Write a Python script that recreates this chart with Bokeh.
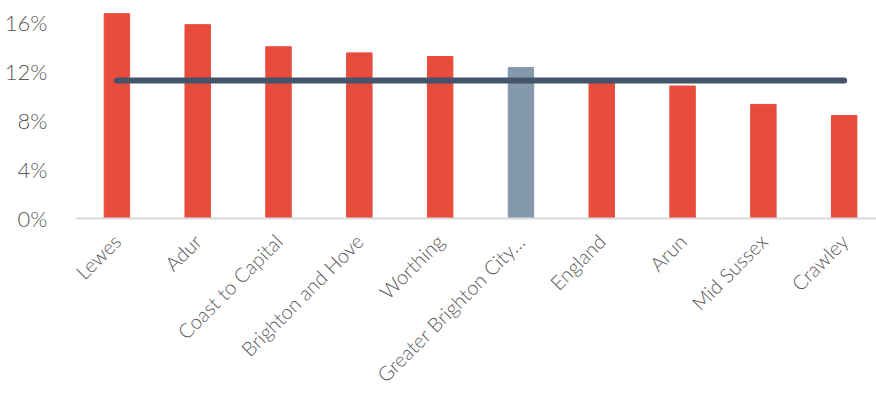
import math
from bokeh.plotting import figure
from bokeh.models import Range1d, FixedTicker, ColumnDataSource
from bokeh.embed import file_html
from bokeh.resources import INLINE

categories = ["Lewes", "Adur", "Coast to Capital", "Brighton and Hove", "Worthing",
              "Greater Brighton City…", "England", "Arun", "Mid Sussex", "Crawley"]
values = [16.7, 15.8, 14.0, 13.5, 13.2, 12.3, 11.2, 10.8, 9.3, 8.4]
england_average = 11.25
highlight = "Greater Brighton City…"
y_ticks = [0, 4, 8, 12, 16]

RED = "#E84C3D"
BLUEGREY = "#8599AD"
LINE = "#44546A"
TXT = "#595959"
FONT = "Lato Light, Lato"

xs = list(range(len(categories)))
colors = [BLUEGREY if c == highlight else RED for c in categories]
src = ColumnDataSource(dict(x=xs, top=values, color=colors))

p = figure(frame_width=800, frame_height=218, output_backend="svg", toolbar_location=None,
           min_border_left=76, min_border_right=0, min_border_top=0, min_border_bottom=0,
           x_range=Range1d(-0.5, 9.40), y_range=Range1d(0, 17.77))
p.outline_line_color = None
p.background_fill_color = None
p.border_fill_color = None
p.grid.visible = False

p.vbar(x="x", top="top", width=0.315, color="color", source=src)
p.line(x=xs, y=[england_average] * len(xs), line_color=LINE, line_width=6, line_cap="round")

ya = p.yaxis[0]
ya.ticker = FixedTicker(ticks=y_ticks)
ya.major_label_overrides = {t: f"{t}%" for t in y_ticks}
ya.axis_line_color = None
ya.major_tick_line_color = None
ya.minor_tick_line_color = None
ya.major_label_standoff = 23
ya.major_label_text_font = FONT
ya.major_label_text_font_size = "22px"
ya.major_label_text_color = TXT

xa = p.xaxis[0]
xa.ticker = FixedTicker(ticks=xs)
xa.major_label_overrides = {i: c for i, c in enumerate(categories)}
xa.major_label_orientation = math.pi / 4
xa.axis_line_color = "#D9D9D9"
xa.axis_line_width = 2
xa.major_tick_line_color = None
xa.minor_tick_line_color = None
xa.major_label_standoff = 13
xa.major_label_text_font = FONT
xa.major_label_text_font_size = "20px"
xa.major_label_text_color = TXT

open("out.html", "w").write(file_html(p, INLINE))
